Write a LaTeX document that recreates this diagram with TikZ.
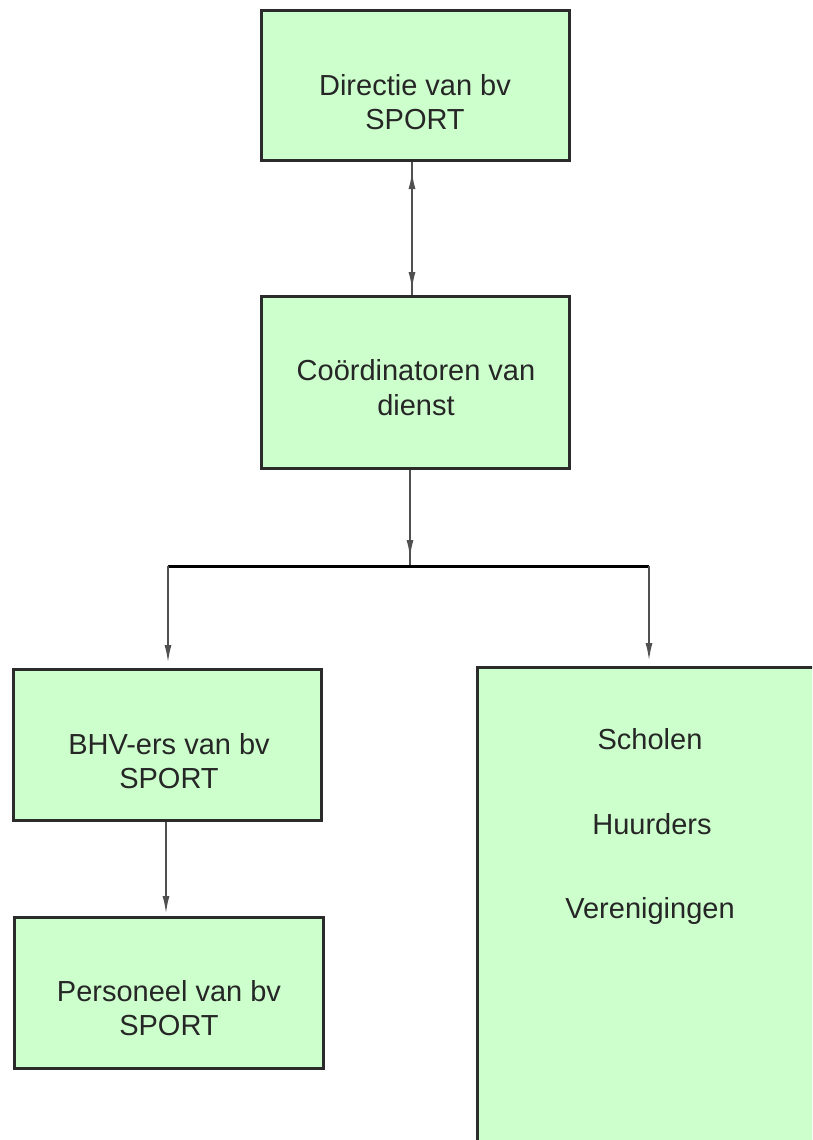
\documentclass[tikz,border=0pt]{standalone}
\usepackage{fontspec}
\setmainfont{Liberation Sans}
\usetikzlibrary{arrows.meta,calc}
\definecolor{boxfill}{HTML}{CCFFCC}
\definecolor{boxline}{HTML}{2B2B2B}
\definecolor{connline}{HTML}{505050}
\begin{document}
\begin{tikzpicture}[x=1pt,y=-1pt,
  orgbox/.style={draw=boxline, line width=3pt, fill=boxfill, inner sep=0pt},
  boxtext/.style={inner sep=0pt, align=center, text=black!85, font=\fontsize{29}{34.5}\selectfont},
  conn/.style={draw=connline, line width=2pt},
  bar/.style={draw=black, line width=3pt},
  >={Latex[length=18pt,width=7pt]}]
\useasboundingbox (0,0) rectangle (812,1140);
\clip (0,0) rectangle (812,1140);
% boxes
\node[orgbox, minimum width=308pt, minimum height=150pt] (dir) at (415.5,85.5) {};
\node[orgbox, minimum width=308pt, minimum height=172pt] (coord) at (415.5,382.5) {};
\node[orgbox, minimum width=308pt, minimum height=151pt] (bhv) at (167,745) {};
\node[orgbox, minimum width=309pt, minimum height=151pt] (pers) at (169,993) {};
\node[orgbox, minimum width=346pt, minimum height=500pt] (ext) at (650.5,917.5) {};
% texts
\node[boxtext] (tdir) at (415,102) {Directie van bv\\SPORT};
\node[boxtext] (tcoord) at (416,387.5) {Coördinatoren van\\dienst};
\node[boxtext] (tbhv) at (169,761) {BHV-ers van bv\\SPORT};
\node[boxtext] (tpers) at (169,1008) {Personeel van bv\\SPORT};
\node[boxtext, anchor=base] (tsch) at (650,749) {Scholen};
\node[boxtext, anchor=base] (thuur) at (652,834) {Huurders};
\node[boxtext, anchor=base] (tver) at (650,918) {Verenigingen};
% connectors
\coordinate (a1) at ($(dir.south)+(-3.5,0)$);
\coordinate (a2) at ($(coord.north)+(-3.5,0)$);
\draw[conn] (a1) -- (a2);
\draw[conn,<->,shorten <=9pt,shorten >=5pt] (a1) -- (a2);
\coordinate (c1) at ($(coord.south)+(-5.5,0)$);
\coordinate (jn) at (410,566);
\coordinate (jl) at (168,566);
\coordinate (jr) at (649,566);
\draw[conn] (c1) -- (jn);
\draw[conn,->,shorten >=8pt] (c1) -- (jn);
\draw[bar] (jl) -- (jr);
\draw[conn,->,shorten >=5pt] (jl) -- (jl |- bhv.north);
\draw[conn,->,shorten >=5pt] (jr) -- (jr |- ext.north);
\coordinate (b1) at ($(bhv.south)+(-1,0)$);
\draw[conn,->,shorten >=2pt] (b1) -- (b1 |- pers.north);
\end{tikzpicture}
\end{document}
